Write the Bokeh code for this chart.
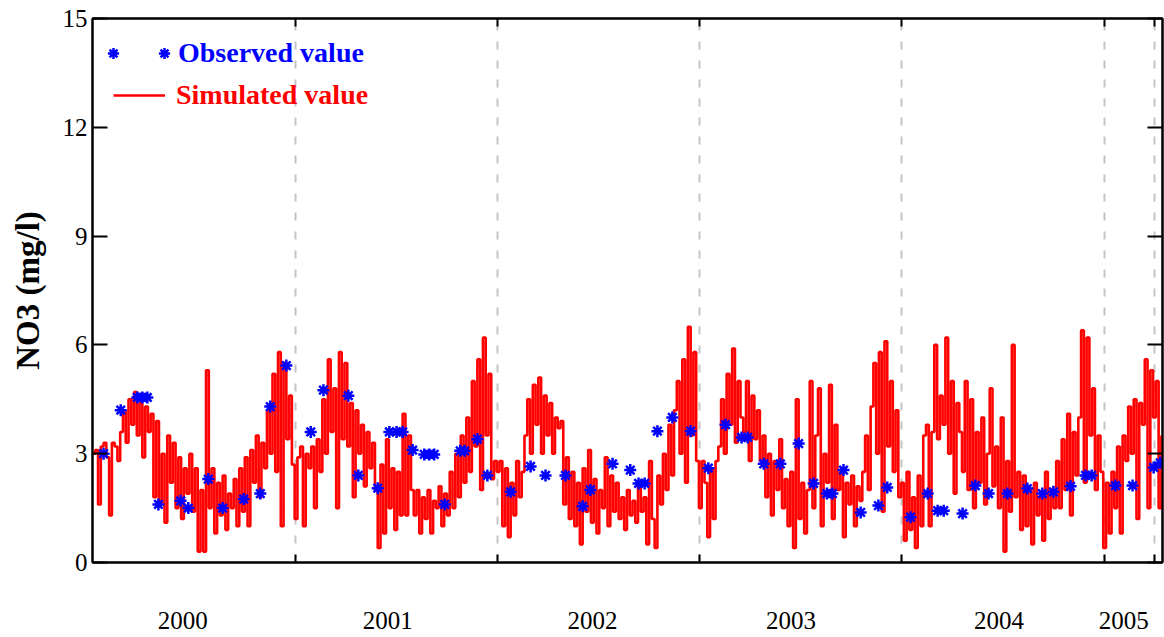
import pandas as pd
from bokeh.plotting import figure
from bokeh.models import (Range1d, FixedTicker, DatetimeAxis, LinearAxis, Legend,
                          LegendItem, DatetimeTickFormatter)
from bokeh.embed import file_html
from bokeh.resources import INLINE

# ---------------- data ----------------
obs_dates = [
    "2000-01-21", "2000-02-21", "2000-03-22", "2000-03-31", "2000-04-09", "2000-04-29",
    "2000-06-08", "2000-06-22", "2000-07-28", "2000-08-23", "2000-09-30", "2000-10-30",
    "2000-11-17", "2000-12-16", "2001-01-29", "2001-02-21", "2001-04-07", "2001-04-25",
    "2001-05-30", "2001-06-20", "2001-07-03", "2001-07-14", "2001-08-01", "2001-08-22",
    "2001-08-31", "2001-09-09", "2001-09-28", "2001-10-26", "2001-11-03", "2001-11-26",
    "2001-12-14", "2002-01-25", "2002-03-02", "2002-03-29", "2002-05-04", "2002-06-04",
    "2002-06-18", "2002-07-28", "2002-08-29", "2002-09-13", "2002-09-24", "2002-10-17",
    "2002-11-13", "2002-12-16", "2003-01-17", "2003-02-17", "2003-03-18", "2003-03-29",
    "2003-04-27", "2003-05-27", "2003-06-29", "2003-07-26", "2003-08-19", "2003-08-29",
    "2003-09-18", "2003-10-19", "2003-11-20", "2003-12-06", "2004-01-17", "2004-02-17",
    "2004-03-06", "2004-03-17", "2004-04-20", "2004-05-13", "2004-06-06", "2004-07-10",
    "2004-08-15", "2004-09-11", "2004-10-01", "2004-11-01", "2004-11-28", "2004-12-09",
    "2005-01-21", "2005-02-21", "2005-03-31", "2005-04-12",
]
obs_values = [
    3.0, 4.2, 4.55, 4.55, 4.55, 1.6,
    1.7, 1.5, 2.3, 1.5, 1.75, 1.9,
    4.3, 5.43, 3.6, 4.75, 4.6, 2.4,
    2.05, 3.6, 3.6, 3.6, 3.1, 2.98,
    2.98, 2.98, 1.6, 3.08, 3.08, 3.4,
    2.4, 1.95, 2.65, 2.4, 2.4, 1.55,
    2.0, 2.72, 2.55, 2.18, 2.18, 3.62,
    4.0, 3.62, 2.6, 3.8, 3.45, 3.45,
    2.72, 2.72, 3.28, 2.18, 1.9, 1.9,
    2.55, 1.38, 1.57, 2.07, 1.25, 1.9,
    1.43, 1.43, 1.35, 2.12, 1.9, 1.9,
    2.04, 1.9, 1.95, 2.1, 2.4, 2.4,
    2.12, 2.12, 2.62, 2.75,
]

sim_start = "2000-01-01"
sim_step = "5D"
sim_values = [
    # 2000
    3.0, 3.1, 1.6, 3.2, 3.3, 2.9, 1.3, 3.3, 3.2,
    2.8, 3.6, 4.2, 3.3, 4.5, 3.8, 4.7, 3.5, 4.4, 2.9, 4.3, 3.6,
    4.1, 1.8, 3.9, 1.6,
    3.0, 1.1, 3.5, 2.2, 3.3, 1.5, 2.9, 1.2, 2.6, 1.9, 3.0, 1.4,
    2.6, 0.3, 2.0, 0.3,
    5.3, 1.5,
    2.6, 0.8, 2.2, 1.3, 2.4, 0.9, 1.9, 1.5, 2.3, 1.0, 2.6,
    1.4, 2.9, 1.0, 3.1, 2.2, 3.5, 1.8, 3.3, 2.6, 4.2,
    3.0, 5.2, 2.5, 5.8, 1.0, 5.5, 3.4, 4.6, 2.7,
    # 2001
    1.2, 2.9, 3.2, 1.0, 3.0, 2.6, 3.2, 1.5, 3.4, 2.5,
    4.5, 3.0, 5.6, 3.6, 4.8, 1.5, 5.8, 3.4, 5.5, 3.2,
    4.4, 1.8, 4.2, 3.0, 3.8, 2.1, 3.6, 2.6, 3.3,
    2.0, 0.4, 2.7, 0.8, 3.4, 1.5, 2.6, 0.9, 2.5, 1.3,
    4.1, 1.3, 3.5, 2.0, 1.3,
    2.0, 0.8, 1.8, 1.2, 2.0, 0.8, 1.7, 1.5, 2.1, 1.0, 1.9, 1.3,
    2.5, 1.5, 3.0, 1.8, 3.5, 2.2, 4.0,
    2.5, 5.0, 3.2, 5.6, 2.0, 6.2, 3.5, 5.2,
    2.3, 2.8,
    # 2002
    2.5, 2.8, 1.0, 2.6, 0.7, 2.2, 1.3, 2.8, 1.8,
    2.5, 3.5, 4.5, 3.0, 4.9, 3.8, 5.1, 3.0, 4.6, 3.5, 4.4, 3.0, 4.0, 3.7, 3.9,
    1.6, 2.9, 1.2,
    2.5, 1.0, 2.2, 0.5, 2.6, 1.4, 3.1, 1.1, 2.3, 0.8, 2.0, 1.5, 2.9, 1.0, 2.4,
    1.4, 2.2, 1.2, 1.8, 0.9, 2.0, 1.3, 1.7, 1.1, 2.2, 1.4, 1.8,
    0.5, 2.8, 1.2, 0.4, 2.4, 1.6,
    3.0, 2.0, 3.8, 2.4, 4.2, 5.0, 3.0, 5.6, 2.2, 6.5, 3.5, 5.8, 2.8,
    # 2003
    1.5, 2.8, 2.2, 0.7, 2.6, 1.2, 2.8,
    3.2, 4.5, 3.0, 5.2, 3.8, 5.9, 3.3, 5.0, 4.0,
    3.6, 5.0, 2.8, 4.6, 3.4, 4.2, 2.8,
    3.5, 1.8, 3.0, 1.3, 2.8, 2.0, 3.4, 1.5,
    2.3, 1.0, 2.5, 0.4, 4.5, 1.2, 2.2, 0.8, 2.0,
    5.0, 1.5, 3.5, 4.8, 1.0, 3.0, 2.2,
    4.9, 1.2, 3.8, 2.0, 2.5, 0.7, 2.2, 1.6, 2.4, 1.0, 2.1, 1.7,
    2.5, 3.5, 2.0, 4.3, 5.5, 3.0, 5.8, 1.4, 6.1, 3.2, 5.0, 2.5, 4.2, 1.8,
    # 2004
    2.2, 0.6, 2.5, 0.9, 1.8, 0.4, 2.4, 1.0,
    3.5, 3.8, 1.0, 3.6,
    6.0, 3.4, 4.6, 3.8, 6.2, 3.0, 5.0, 1.9, 4.4, 3.6,
    2.5, 5.0, 2.0, 4.5, 1.5, 3.6, 2.2, 4.0, 1.6, 3.0, 4.8, 2.1,
    3.2, 1.5, 4.0, 0.3, 2.8, 1.4, 6.0, 1.8, 2.5, 0.9,
    2.4, 1.0, 2.0, 0.5, 2.2, 1.3, 1.8, 0.6, 2.5, 1.2, 2.0, 1.5,
    2.8, 1.5, 3.4, 2.0, 4.1, 1.3, 3.6, 2.4, 4.0,
    6.4, 2.2, 6.2,
    3.5, 4.8, 2.0, 3.5, 2.5,
    # 2005
    0.4, 2.2, 0.8,
    2.5, 1.5, 3.2, 0.8, 3.5, 2.8,
    4.3, 3.0, 4.5, 1.2, 4.4, 3.8, 5.6, 1.5, 5.3, 4.0,
    5.0, 1.5, 3.5,
]

x_start, x_end = "2000-01-01", "2005-04-16"
boundary_dates = ["2001-01-01", "2002-01-01", "2003-01-01", "2004-01-01",
                  "2005-01-01", "2005-04-01"]
year_labels = ["2000", "2001", "2002", "2003", "2004", "2005"]
year_label_dates = ["2000-06-12", "2001-06-17", "2002-06-22", "2003-06-15",
                    "2004-06-25", "2005-02-05"]
y_ticks = [0, 3, 6, 9, 12, 15]


def ms(d):
    return pd.Timestamp(d).value / 1e6


SERIF = "Liberation Serif"

p = figure(width=1164, height=637, x_axis_type="datetime",
           x_range=Range1d(pd.Timestamp(x_start), pd.Timestamp(x_end)),
           y_range=Range1d(0, 15),
           output_backend="svg", toolbar_location=None,
           min_border_left=92, min_border_right=2, min_border_top=18,
           min_border_bottom=75, background_fill_color="white",
           border_fill_color="white", outline_line_color="black",
           outline_line_width=2)

sim_x = pd.date_range(sim_start, periods=len(sim_values), freq=sim_step)
sim_r = p.step(x=sim_x, y=sim_values, mode="after", line_color="#ff0000",
               line_width=2.6)
obs_r = p.scatter(x=pd.to_datetime(obs_dates), y=obs_values, marker="asterisk",
                  size=12, line_color="#0000ff", line_width=2.5)

# x axis (bottom): year labels, boundary ticks as minor ticks
label_ms = [ms(d) for d in year_label_dates]
xa = p.xaxis[0]
xa.ticker = FixedTicker(ticks=label_ms, minor_ticks=[ms(d) for d in boundary_dates])
fmt = "%Y"
xa.formatter = DatetimeTickFormatter(microseconds=fmt, milliseconds=fmt, seconds=fmt,
                                     minsec=fmt, minutes=fmt, hourmin=fmt, hours=fmt,
                                     days=fmt, months=fmt, years=fmt)
xa.major_tick_in = 0
xa.major_tick_out = 0
xa.minor_tick_in = 8
xa.minor_tick_out = 0
xa.minor_tick_line_width = 2
xa.minor_tick_line_color = "black"
xa.axis_line_width = 2
xa.axis_line_color = "black"
xa.major_label_standoff = 49
xa.major_label_text_font = SERIF
xa.major_label_text_font_size = "25px"
xa.major_label_text_color = "black"

# top axis (ticks only)
top = DatetimeAxis(ticker=FixedTicker(ticks=[], minor_ticks=[ms(d) for d in boundary_dates]),
                   major_tick_in=0, major_tick_out=0,
                   minor_tick_in=8, minor_tick_out=0, minor_tick_line_width=2,
                   axis_line_width=2, major_label_standoff=0)
p.add_layout(top, "above")

# y axis (left)
ya = p.yaxis[0]
ya.ticker = FixedTicker(ticks=y_ticks)
ya.major_tick_in = 15
ya.major_tick_out = 0
ya.minor_tick_in = 0
ya.minor_tick_out = 0
ya.major_tick_line_width = 2
ya.axis_line_width = 2
ya.major_label_standoff = 5
ya.major_label_text_font = SERIF
ya.major_label_text_font_size = "25px"
ya.major_label_text_color = "black"
ya.axis_label = "NO3 (mg/l)"
ya.axis_label_text_font = SERIF
ya.axis_label_text_font_style = "bold"
ya.axis_label_text_font_size = "33px"
ya.axis_label_text_color = "black"
ya.axis_label_standoff = 14

# right axis (ticks only, blank labels)
right = LinearAxis(ticker=FixedTicker(ticks=y_ticks), major_tick_in=15, major_tick_out=0,
                   minor_tick_in=0, minor_tick_out=0, major_tick_line_width=2,
                   axis_line_width=2, major_label_standoff=0,
                   major_label_overrides={t: "" for t in y_ticks})
p.add_layout(right, "right")

# grid: dashed lines at year boundaries
p.xgrid.ticker = FixedTicker(ticks=[ms(d) for d in boundary_dates])
p.xgrid.grid_line_color = "#c4c4c4"
p.xgrid.grid_line_width = 2
p.xgrid.grid_line_dash = "8 11"
p.ygrid.visible = False

# legends
common = dict(border_line_alpha=0, background_fill_alpha=0, padding=0, margin=0,
              label_text_font=SERIF, label_text_font_style="bold",
              label_text_font_size="28px")
leg_obs = Legend(items=[LegendItem(label=" ", renderers=[obs_r]),
                        LegendItem(label="Observed value", renderers=[obs_r])],
                 orientation="horizontal", location=(7, 493),
                 glyph_width=28, glyph_height=28, label_standoff=0,
                 label_width=15, spacing=8, label_text_color="#0000ff", **common)
leg_sim = Legend(items=[LegendItem(label="Simulated value", renderers=[sim_r])],
                 location=(21, 451), glyph_width=52, glyph_height=28,
                 label_standoff=11, label_text_color="#ff0000", **common)
p.add_layout(leg_obs, "center")
p.add_layout(leg_sim, "center")

open("out.html", "w").write(file_html(p, INLINE))
